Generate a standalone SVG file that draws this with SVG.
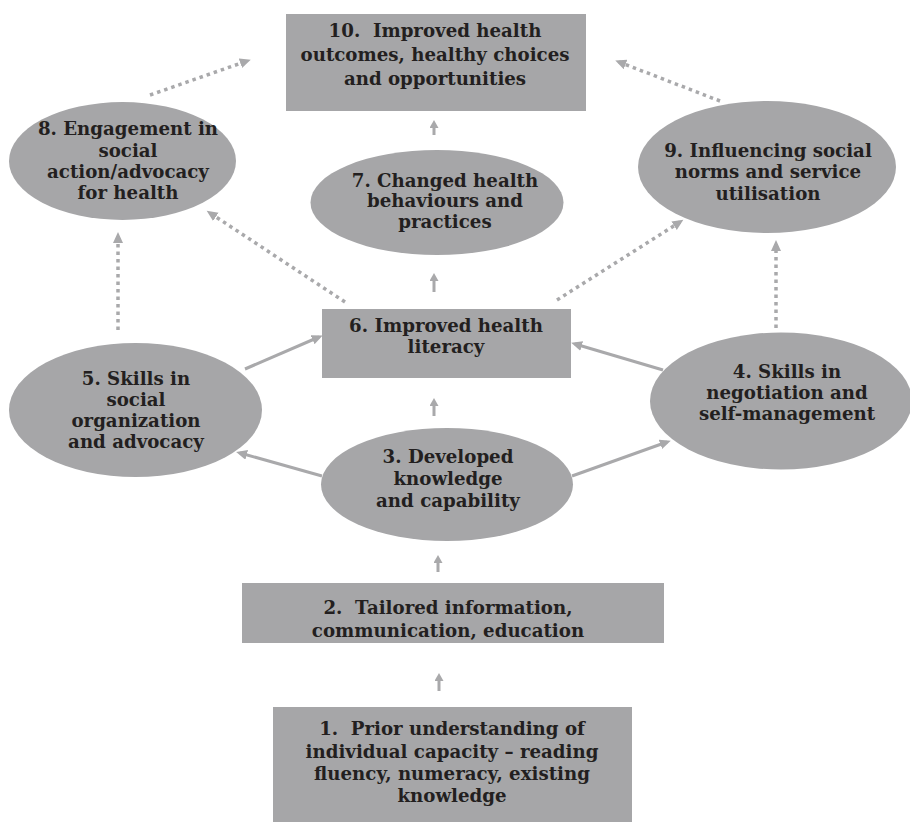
<svg xmlns="http://www.w3.org/2000/svg" width="910" height="825" viewBox="0 0 910 825">
<style>
.n{fill:#a6a6a8;}
.t{font-family:"DejaVu Serif","Liberation Serif",serif;font-weight:bold;font-size:18.2px;fill:#231f20;text-anchor:middle;white-space:pre;}
.s{stroke:#a9a9ab;stroke-width:3;fill:none;marker-end:url(#ah);}
.d{stroke:#a9a9ab;stroke-width:3.5;fill:none;stroke-dasharray:3.5 4;marker-end:url(#ah);}
.u{stroke:#a9a9ab;stroke-width:3;fill:none;marker-end:url(#sh);}
</style>
<defs>
<marker id="ah" markerUnits="userSpaceOnUse" markerWidth="12" markerHeight="12" refX="7" refY="5" orient="auto">
<path d="M0,0 L11,5 L0,10 z" fill="#a9a9ab"/>
</marker>
<marker id="sh" markerUnits="userSpaceOnUse" markerWidth="12" markerHeight="12" refX="4" refY="4.5" orient="auto">
<path d="M0,0 L8,4.5 L0,9 z" fill="#a9a9ab"/>
</marker>
</defs>
<rect width="910" height="825" fill="#ffffff"/>
<g id="connectors">
<line class="u" x1="434" y1="135" x2="434" y2="124"/>
<line class="u" x1="434" y1="292" x2="434" y2="277"/>
<line class="u" x1="434" y1="416" x2="434" y2="402"/>
<line class="u" x1="438" y1="572" x2="438" y2="559"/>
<line class="u" x1="439" y1="691" x2="439" y2="677"/>
<line class="s" x1="245" y1="369" x2="319" y2="337"/>
<line class="s" x1="663" y1="370" x2="575" y2="344"/>
<line class="s" x1="322" y1="476" x2="240" y2="453"/>
<line class="s" x1="572" y1="476" x2="667" y2="442"/>
<line class="d" x1="118" y1="330" x2="118" y2="236"/>
<line class="d" x1="776" y1="328" x2="776" y2="244"/>
<line class="d" x1="345" y1="302" x2="210" y2="213"/>
<line class="d" x1="557" y1="300" x2="680" y2="222"/>
<line class="d" x1="150" y1="95" x2="247" y2="61"/>
<line class="d" x1="720" y1="101" x2="619" y2="62"/>
</g>
<g id="n10">
<rect class="n" x="286" y="14" width="300" height="97"/>
<text class="t" x="435" y="37">10.  Improved health</text>
<text class="t" x="435" y="61">outcomes, healthy choices</text>
<text class="t" x="435" y="85">and opportunities</text>
</g>
<g id="n8">
<ellipse class="n" cx="122.5" cy="161" rx="113.5" ry="59"/>
<text class="t" x="128" y="135">8. Engagement in</text>
<text class="t" x="128" y="157">social</text>
<text class="t" x="128" y="178">action/advocacy</text>
<text class="t" x="128" y="199">for health</text>
</g>
<g id="n7">
<ellipse class="n" cx="437" cy="202.5" rx="126.5" ry="52.5"/>
<text class="t" x="445" y="187">7. Changed health</text>
<text class="t" x="445" y="207">behaviours and</text>
<text class="t" x="445" y="228">practices</text>
</g>
<g id="n9">
<ellipse class="n" cx="767" cy="167" rx="129" ry="66"/>
<text class="t" x="768" y="157">9. Influencing social</text>
<text class="t" x="768" y="178">norms and service</text>
<text class="t" x="768" y="200">utilisation</text>
</g>
<g id="n6">
<rect class="n" x="322" y="309" width="249" height="69"/>
<text class="t" x="446" y="332">6. Improved health</text>
<text class="t" x="446" y="353">literacy</text>
</g>
<g id="n5">
<ellipse class="n" cx="135.5" cy="410" rx="126.5" ry="67"/>
<text class="t" x="136" y="385">5. Skills in</text>
<text class="t" x="136" y="406">social</text>
<text class="t" x="136" y="427">organization</text>
<text class="t" x="136" y="448">and advocacy</text>
</g>
<g id="n4">
<ellipse class="n" cx="781" cy="401" rx="131" ry="68.5"/>
<text class="t" x="787" y="378">4. Skills in</text>
<text class="t" x="787" y="399">negotiation and</text>
<text class="t" x="787" y="420">self-management</text>
</g>
<g id="n3">
<ellipse class="n" cx="447" cy="484.5" rx="126" ry="56.5"/>
<text class="t" x="448" y="463">3. Developed</text>
<text class="t" x="448" y="485">knowledge</text>
<text class="t" x="448" y="507">and capability</text>
</g>
<g id="n2">
<rect class="n" x="242" y="583" width="422" height="60"/>
<text class="t" x="448" y="614">2.  Tailored information,</text>
<text class="t" x="448" y="637">communication, education</text>
</g>
<g id="n1">
<rect class="n" x="273" y="707" width="359" height="115"/>
<text class="t" x="452" y="735">1.  Prior understanding of</text>
<text class="t" x="452" y="758">individual capacity – reading</text>
<text class="t" x="452" y="780">fluency, numeracy, existing</text>
<text class="t" x="452" y="802">knowledge</text>
</g>
</svg>
